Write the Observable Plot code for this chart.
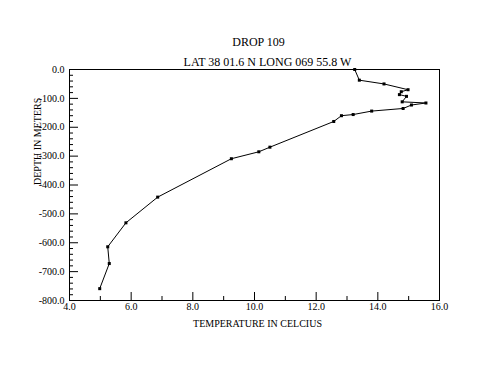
<!DOCTYPE html>
<html>
<head>
<meta charset="utf-8">
<script src="https://cdn.jsdelivr.net/npm/d3@7"></script>
<script src="https://cdn.jsdelivr.net/npm/@observablehq/plot@0.6"></script>
<style>
  body { margin: 0; background: #fff; }
  svg { display: block; }
  svg text { font-family: "Liberation Serif", serif !important; }
</style>
</head>
<body>
<div id="chart"></div>
<script>
const title = "DROP 109";
const subtitle = "LAT 38 01.6 N LONG 069 55.8 W";
const xLabel = "TEMPERATURE IN CELCIUS";
const yLabel = "DEPTH IN METERS";

const temperature = [13.25, 13.40, 14.20, 14.98, 14.76, 14.70, 14.93, 14.79, 15.56, 15.09, 14.82, 13.80, 13.20, 12.82, 12.57, 10.50, 10.14, 9.25, 6.86, 5.83, 5.24, 5.29, 4.98];
const depth = [0, -37, -50, -70, -77, -87, -93, -112, -116, -123, -135, -144, -156, -160, -180, -269, -285, -309, -442, -531, -614, -672, -759];

const xMajorTicks = [4, 6, 8, 10, 12, 14, 16];
const xMinorTicks = [5, 7, 9, 11, 13, 15];
const yMajorTicks = [0, -100, -200, -300, -400, -500, -600, -700, -800];
const yMinorTicks = d3.range(-780, 0, 20).filter(v => v % 100 !== 0);

const data = temperature.map((t, i) => ({t, d: depth[i]}));
const fmt = v => v.toFixed(1);
const blank = () => "";
const serif = "Liberation Serif";

const chart = Plot.plot({
  width: 500,
  height: 385,
  marginLeft: 69,
  marginRight: 61,
  marginTop: 69,
  marginBottom: 85,
  style: {fontFamily: serif, fontSize: "10px", color: "black", background: "#fff"},
  x: {domain: [4, 16]},
  y: {domain: [-800, 0]},
  marks: [
    Plot.frame({stroke: "black"}),
    Plot.axisX({ticks: xMajorTicks, tickSize: 0, tickPadding: 2, tickFormat: fmt, label: null, fontFamily: serif, fontSize: 10}),
    Plot.axisY({ticks: yMajorTicks, tickSize: 0, tickPadding: 5, tickFormat: fmt, label: null, fontFamily: serif, fontSize: 10}),
    Plot.axisX({ticks: xMajorTicks, tickSize: 8, dy: -8, tickFormat: blank, label: null, stroke: "black"}),
    Plot.axisX({ticks: xMinorTicks, tickSize: 4, dy: -4, tickFormat: blank, label: null, stroke: "black"}),
    Plot.axisY({ticks: yMajorTicks, tickSize: 9, dx: 9, tickFormat: blank, label: null, stroke: "black"}),
    Plot.axisY({ticks: yMinorTicks, tickSize: 4, dx: 4, tickFormat: blank, label: null, stroke: "black"}),
    Plot.line(data, {x: "t", y: "d", stroke: "black", strokeWidth: 1}),
    Plot.dot(data, {x: "t", y: "d", symbol: "square", r: 1.7, fill: "black", stroke: null}),
    Plot.text([title], {text: d => d, frameAnchor: "top", lineAnchor: "bottom", dy: -24, dx: 4, fontSize: 12, fontFamily: serif}),
    Plot.text([subtitle], {text: d => d, frameAnchor: "top", lineAnchor: "bottom", dy: -3.5, dx: 13, fontSize: 12, fontFamily: serif}),
    Plot.text([xLabel], {text: d => d, frameAnchor: "bottom", lineAnchor: "bottom", dy: 26, dx: 3, fontSize: 10, fontFamily: serif}),
    Plot.text([yLabel], {text: d => d, frameAnchor: "left", rotate: -90, lineAnchor: "middle", dx: -31.5, fontSize: 10, fontFamily: serif})
  ]
});
document.getElementById("chart").appendChild(chart);
</script>
</body>
</html>
